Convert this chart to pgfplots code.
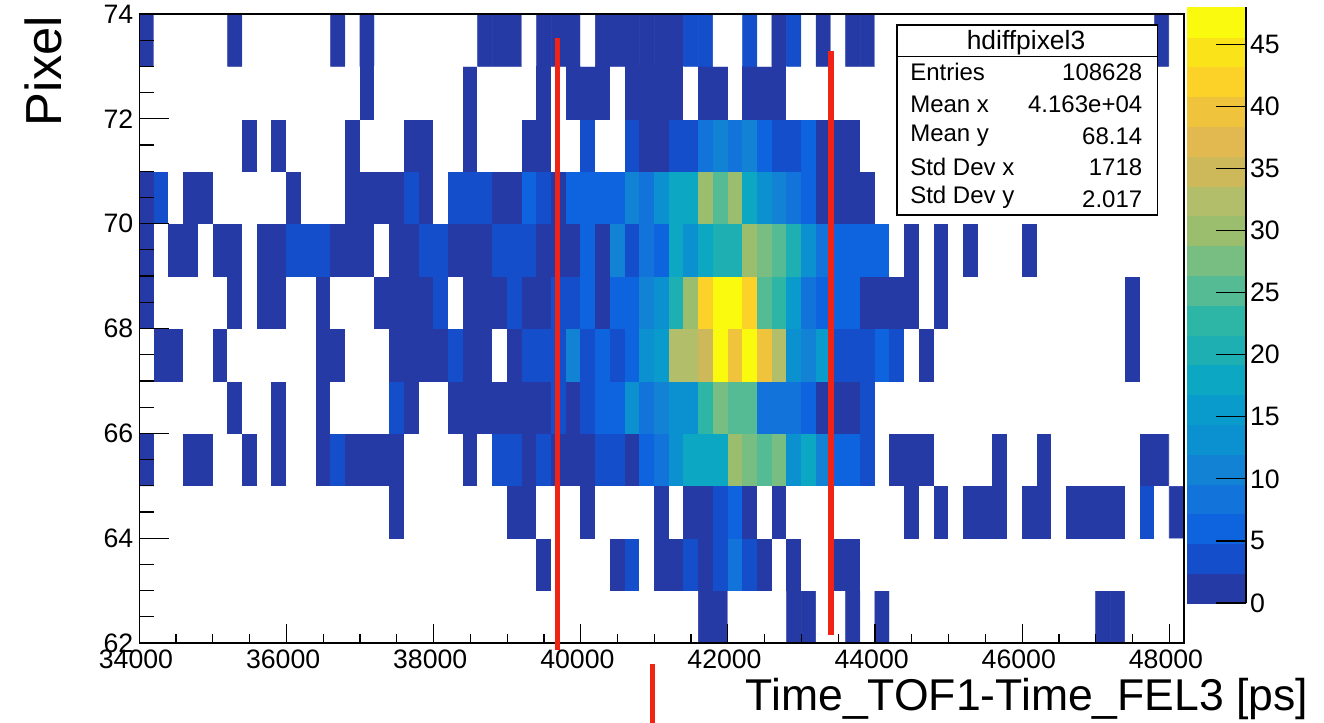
\documentclass[border=0pt]{standalone}
\usepackage{pgfplots}
\pgfplotsset{compat=1.18}
\usepackage{fontspec}
\setmainfont{Liberation Sans}
\definecolor{redline}{RGB}{240,35,20}
\newcommand{\tickfont}{\fontsize{20}{21}\selectfont}
\pgfplotsset{
  colormap={rootw}{rgb255=(255,255,255) rgb255=(38,58,165) rgb255=(20,78,203) rgb255=(14,100,222) rgb255=(18,115,218) rgb255=(18,130,213) rgb255=(12,145,208) rgb255=(10,155,205) rgb255=(12,167,195) rgb255=(30,175,178) rgb255=(45,182,165) rgb255=(85,187,148) rgb255=(120,190,130) rgb255=(155,190,110) rgb255=(178,190,105) rgb255=(205,185,90) rgb255=(225,185,80) rgb255=(240,195,60) rgb255=(253,210,40) rgb255=(250,228,25) rgb255=(250,250,15)},
  colormap={root}{rgb255=(38,58,165) rgb255=(20,78,203) rgb255=(14,100,222) rgb255=(18,115,218) rgb255=(18,130,213) rgb255=(12,145,208) rgb255=(10,155,205) rgb255=(12,167,195) rgb255=(30,175,178) rgb255=(45,182,165) rgb255=(85,187,148) rgb255=(120,190,130) rgb255=(155,190,110) rgb255=(178,190,105) rgb255=(205,185,90) rgb255=(225,185,80) rgb255=(240,195,60) rgb255=(253,210,40) rgb255=(250,228,25) rgb255=(250,250,15)},
}
\begin{document}
\begin{tikzpicture}[x=0.75pt,y=-0.75pt]
\path[use as bounding box] (0,0) rectangle (1324,723);
% ---- histogram, x ticks
\begin{axis}[
  at={(104.475pt,-482.25pt)}, anchor=south west,
  scale only axis, width=783.5pt, height=471.75pt,
  xmin=34000, xmax=48200, ymin=62, ymax=74,
  xtick={34000,36000,...,48000}, minor x tick num=3,
  ytick=\empty,
  xtick pos=bottom, tick align=inside,
  major tick length=14.25pt, minor tick length=7.1pt,
  scaled x ticks=false,
  axis line style={line width=1.1pt}, tick style={black,line width=0.9pt},
  /pgf/number format/assume math mode=true,
  /pgf/number format/1000 sep={},
  xticklabel style={font=\tickfont,yshift=-1.5pt,xshift=-2.5pt},
  xlabel={Time\_TOF1-Time\_FEL3 [ps]},
  every axis x label/.style={at={(axis description cs:1.1235,-0.108)},anchor=base east,font=\fontsize{33.4}{34}\selectfont},
  colormap name=rootw, colormap access=piecewise constant,
  point meta min=-2.4, point meta max=48,
  axis on top,
]
\addplot[matrix plot*, mesh/cols=71, point meta=explicit]
  table[row sep=\\, header=false, x expr={34100+200*floor(mod(\coordindex+0.5,71))}, y expr={62.5+floor((\coordindex+0.5)/71)}, meta index=0, col sep=space] {
-1\\-1\\-1\\-1\\-1\\-1\\-1\\-1\\-1\\-1\\
-1\\-1\\-1\\-1\\-1\\-1\\-1\\-1\\-1\\-1\\
-1\\-1\\-1\\-1\\-1\\-1\\-1\\-1\\-1\\-1\\
-1\\-1\\-1\\-1\\-1\\-1\\-1\\-1\\1\\1\\
-1\\-1\\-1\\-1\\1\\1\\-1\\-1\\1\\-1\\
1\\-1\\-1\\-1\\-1\\-1\\-1\\-1\\-1\\-1\\
-1\\-1\\-1\\-1\\-1\\1\\1\\-1\\-1\\-1\\
-1\\
-1\\-1\\-1\\-1\\-1\\-1\\-1\\-1\\-1\\-1\\
-1\\-1\\-1\\-1\\-1\\-1\\-1\\-1\\-1\\-1\\
-1\\-1\\-1\\-1\\-1\\-1\\-1\\1\\-1\\-1\\
-1\\-1\\1\\3\\-1\\1\\1\\3\\1\\3\\
8\\3\\1\\-1\\1\\-1\\-1\\1\\1\\-1\\
-1\\-1\\-1\\-1\\-1\\-1\\-1\\-1\\-1\\-1\\
-1\\-1\\-1\\-1\\-1\\-1\\-1\\-1\\-1\\-1\\
-1\\
-1\\-1\\-1\\-1\\-1\\-1\\-1\\-1\\-1\\-1\\
-1\\-1\\-1\\-1\\-1\\-1\\-1\\1\\-1\\-1\\
-1\\-1\\-1\\-1\\-1\\1\\1\\-1\\-1\\-1\\
1\\-1\\-1\\-1\\-1\\1\\-1\\1\\1\\3\\
6\\1\\-1\\1\\-1\\-1\\-1\\-1\\-1\\-1\\
-1\\-1\\1\\-1\\1\\-1\\1\\1\\1\\-1\\
1\\1\\-1\\1\\1\\1\\1\\-1\\3\\-1\\
1\\
1\\-1\\-1\\1\\1\\-1\\-1\\1\\-1\\1\\
-1\\-1\\1\\3\\1\\1\\1\\1\\-1\\-1\\
-1\\-1\\1\\-1\\3\\3\\1\\3\\1\\1\\
1\\3\\3\\1\\6\\8\\13\\18\\18\\18\\
30\\28\\25\\28\\13\\18\\11\\6\\6\\3\\
-1\\1\\1\\1\\-1\\-1\\-1\\-1\\1\\-1\\
-1\\1\\-1\\-1\\-1\\-1\\-1\\-1\\1\\1\\
-1\\
-1\\-1\\-1\\-1\\-1\\-1\\1\\-1\\-1\\1\\
-1\\-1\\1\\-1\\-1\\-1\\-1\\3\\1\\-1\\
-1\\1\\1\\1\\1\\1\\1\\1\\3\\1\\
3\\6\\6\\13\\8\\11\\13\\13\\23\\28\\
25\\25\\8\\8\\8\\6\\1\\1\\1\\3\\
-1\\-1\\-1\\-1\\-1\\-1\\-1\\-1\\-1\\-1\\
-1\\-1\\-1\\-1\\-1\\-1\\-1\\-1\\-1\\-1\\
-1\\
-1\\1\\1\\-1\\-1\\1\\-1\\-1\\-1\\-1\\
-1\\-1\\1\\1\\-1\\-1\\-1\\1\\1\\1\\
1\\3\\1\\1\\-1\\1\\3\\3\\3\\11\\
3\\6\\3\\6\\13\\15\\32\\32\\35\\47\\
40\\47\\40\\32\\13\\11\\15\\3\\3\\3\\
6\\3\\-1\\1\\-1\\-1\\-1\\-1\\-1\\-1\\
-1\\-1\\-1\\-1\\-1\\-1\\-1\\1\\-1\\-1\\
-1\\
1\\-1\\-1\\-1\\-1\\-1\\1\\-1\\1\\1\\
-1\\-1\\1\\-1\\-1\\-1\\1\\1\\1\\1\\
3\\-1\\1\\1\\1\\3\\1\\1\\3\\3\\
6\\1\\6\\6\\11\\13\\20\\30\\42\\47\\
47\\42\\25\\23\\15\\8\\6\\6\\6\\1\\
1\\1\\1\\-1\\1\\-1\\-1\\-1\\-1\\-1\\
-1\\-1\\-1\\-1\\-1\\-1\\-1\\1\\-1\\-1\\
-1\\
1\\-1\\1\\1\\-1\\1\\1\\-1\\1\\1\\
3\\3\\3\\1\\1\\1\\-1\\1\\1\\3\\
3\\1\\1\\1\\3\\3\\3\\1\\1\\1\\
6\\1\\11\\3\\8\\6\\18\\13\\18\\20\\
20\\30\\28\\25\\20\\13\\8\\6\\6\\6\\
6\\-1\\1\\-1\\1\\-1\\1\\-1\\-1\\-1\\
1\\-1\\-1\\-1\\-1\\-1\\-1\\-1\\-1\\-1\\
-1\\
1\\3\\-1\\1\\1\\-1\\-1\\-1\\-1\\-1\\
1\\-1\\-1\\-1\\1\\1\\1\\1\\3\\1\\
-1\\3\\3\\3\\1\\1\\6\\3\\1\\6\\
6\\6\\6\\11\\8\\13\\18\\18\\30\\25\\
30\\18\\13\\11\\8\\6\\1\\1\\1\\1\\
-1\\-1\\-1\\-1\\-1\\-1\\-1\\-1\\-1\\-1\\
-1\\-1\\-1\\-1\\-1\\-1\\-1\\-1\\-1\\-1\\
-1\\
-1\\-1\\-1\\-1\\-1\\-1\\-1\\1\\-1\\1\\
-1\\-1\\-1\\-1\\1\\-1\\-1\\-1\\1\\1\\
-1\\-1\\1\\-1\\-1\\-1\\1\\1\\-1\\-1\\
3\\-1\\-1\\3\\1\\1\\3\\3\\8\\11\\
8\\11\\6\\3\\3\\6\\1\\1\\1\\-1\\
-1\\-1\\-1\\-1\\-1\\-1\\-1\\-1\\-1\\-1\\
-1\\-1\\-1\\-1\\-1\\-1\\-1\\-1\\-1\\-1\\
-1\\
-1\\-1\\-1\\-1\\-1\\-1\\-1\\-1\\-1\\-1\\
-1\\-1\\-1\\-1\\-1\\1\\-1\\-1\\-1\\-1\\
-1\\-1\\1\\-1\\-1\\-1\\-1\\1\\-1\\1\\
1\\1\\-1\\1\\1\\1\\1\\-1\\1\\1\\
-1\\1\\1\\1\\-1\\-1\\-1\\-1\\-1\\-1\\
-1\\-1\\-1\\-1\\-1\\-1\\-1\\-1\\-1\\-1\\
-1\\-1\\-1\\-1\\-1\\-1\\-1\\-1\\-1\\-1\\
-1\\
1\\-1\\-1\\-1\\-1\\-1\\1\\-1\\-1\\-1\\
-1\\-1\\-1\\1\\-1\\1\\-1\\-1\\-1\\-1\\
-1\\-1\\-1\\1\\1\\1\\-1\\1\\1\\1\\
-1\\1\\1\\1\\1\\1\\1\\3\\3\\-1\\
-1\\3\\-1\\1\\3\\-1\\1\\-1\\1\\1\\
-1\\-1\\-1\\-1\\-1\\-1\\-1\\-1\\-1\\-1\\
-1\\-1\\-1\\-1\\-1\\-1\\-1\\-1\\-1\\1\\
-1\\
};
\end{axis}
% ---- y ticks and red marks
\begin{axis}[
  at={(104.475pt,-482.25pt)}, anchor=south west,
  scale only axis, width=783.5pt, height=471.75pt,
  xmin=34000, xmax=48200, ymin=62, ymax=74,
  ytick={62,64,...,74}, minor y tick num=3,
  xtick=\empty,
  ytick pos=left, tick align=inside,
  major tick length=22.5pt, minor tick length=11.25pt,
  axis line style={line width=1.1pt}, tick style={black,line width=0.9pt},
  /pgf/number format/assume math mode=true,
  yticklabel style={font=\tickfont,xshift=-1pt},
  ylabel={Pixel},
  every axis y label/.style={at={(axis description cs:-0.0745,1.004)},rotate=90,anchor=base east,font=\fontsize{38}{39}\selectfont},
  clip=false,
]
\addplot[redline, line width=4pt, forget plot] coordinates {(39685,73.54) (39685,61.87)};
\addplot[redline, line width=4pt, forget plot] coordinates {(43402,73.29) (43402,62.15)};
\addplot[redline, line width=4pt, forget plot] coordinates {(40979,61.6) (40979,60.47)};
\end{axis}
% ---- colour bar
\begin{axis}[
  at={(890.25pt,-452.25pt)}, anchor=south west,
  scale only axis, width=44.25pt, height=447pt,
  xmin=0, xmax=1, ymin=0, ymax=48,
  axis x line=none, axis y line*=right,
  ytick={0,5,...,45},
  tick align=inside, major tick length=22.5pt,
  axis line style={line width=0.9pt,-}, tick style={black,line width=0.9pt},
  /pgf/number format/assume math mode=true,
  yticklabel style={font=\tickfont,xshift=-0.5pt},
  colormap name=root, colormap access=piecewise constant,
  point meta min=0, point meta max=48,
  axis on top,
]
\addplot[matrix plot*, mesh/cols=2, point meta=y] coordinates {
(0.25,1.2)(0.75,1.2) (0.25,3.6)(0.75,3.6) (0.25,6)(0.75,6) (0.25,8.4)(0.75,8.4) (0.25,10.8)(0.75,10.8)
(0.25,13.2)(0.75,13.2) (0.25,15.6)(0.75,15.6) (0.25,18)(0.75,18) (0.25,20.4)(0.75,20.4) (0.25,22.8)(0.75,22.8)
(0.25,25.2)(0.75,25.2) (0.25,27.6)(0.75,27.6) (0.25,30)(0.75,30) (0.25,32.4)(0.75,32.4) (0.25,34.8)(0.75,34.8)
(0.25,37.2)(0.75,37.2) (0.25,39.6)(0.75,39.6) (0.25,42)(0.75,42) (0.25,44.4)(0.75,44.4) (0.25,46.8)(0.75,46.8)
};
\end{axis}
% ---- statistics box
\draw[black,line width=1pt,fill=white] (897,25) rectangle (1157.5,215);
\draw[black,line width=1pt] (897,56.7) -- (1157.5,56.7);
\node[anchor=base,inner sep=0pt,font=\fontsize{19.8}{20}\selectfont] at (1026,50) {hdiffpixel3};
\newcommand{\statrow}[5]{%
  \node[anchor=base west,inner sep=0pt,font=\fontsize{18}{19}\selectfont] at (910,#1) {#2};
  \node[anchor=base east,inner sep=0pt,font=\fontsize{18}{19}\selectfont] at (1142.5,#3) {#4};}
\statrow{81}{Entries}{81}{108628}{}
\statrow{113}{Mean x}{113}{4.163e+04}{}
\statrow{142}{Mean y}{145}{68.14}{}
\statrow{176}{Std Dev x}{176}{1718}{}
\statrow{204}{Std Dev y}{208}{2.017}{}
\end{tikzpicture}
\end{document}
